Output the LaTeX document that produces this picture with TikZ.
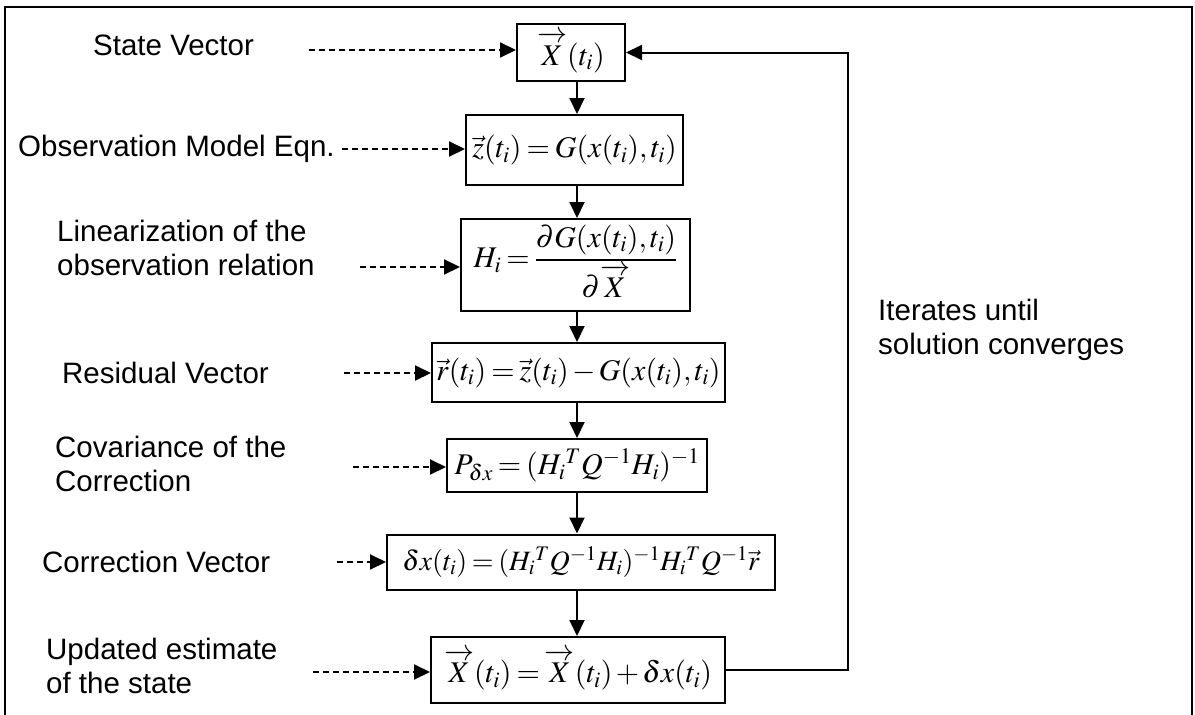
\documentclass[tikz,border=0pt]{standalone}
\usepackage{amsmath}
\usepackage{mathptmx}
\usepackage{fontspec}
\setmainfont{Liberation Sans}
\usetikzlibrary{arrows.meta}
\newcommand{\vX}{\overrightarrow{\vphantom{(}X}}
\medmuskip=2mu plus 1mu minus 1mu
\thickmuskip=3mu plus 1mu
\thinmuskip=2mu
\tikzset{
  eqbox/.style={draw, line width=2pt, inner sep=0pt, align=center,
    font=\fontsize{30}{34}\selectfont},
  lbl/.style={inner sep=0pt, anchor=west, align=left,
    font=\fontsize{29.5}{34.5}\selectfont},
  flow/.style={line width=2pt, -{Triangle[length=16pt,width=15pt]}},
  dasharrow/.style={line width=2pt, dash pattern=on 6pt off 4pt,
    -{Triangle[length=16pt,width=15pt]}},
}
\begin{document}
\begin{tikzpicture}[x=1pt,y=-1pt]
\useasboundingbox (0,0) rectangle (1195,715);
% outer frame
\draw[line width=2.5pt] (5,716) -- (5,7) -- (1192,7) -- (1192,716);

% equation boxes
\node[eqbox, minimum width=108pt, minimum height=57pt] (b1) at (571,52.5) {$\vX(t_i)$};
\node[eqbox, minimum width=217pt, minimum height=70pt] (b2) at (574.5,150) {$\vec{z}(t_i)=G(x(t_i),t_i)$};
\node[eqbox, minimum width=229pt, minimum height=92pt] (b3) at (575.5,265) {$H_i=\dfrac{\partial G(x(t_i),t_i)}{\partial \vX}$};
\node[eqbox, minimum width=293pt, minimum height=59pt] (b4) at (578.5,372.5) {$\vec{r}(t_i)=\vec{z}(t_i)-G(x(t_i),t_i)$};
\node[eqbox, minimum width=260pt, minimum height=53pt] (b5) at (577,465.5) {$P_{\delta x}=(H_i{}^{T}Q^{-1}H_i)^{-1}$};
\node[eqbox, minimum width=388pt, minimum height=55pt, font=\fontsize{28}{32}\selectfont] (b6) at (581,562) {$\delta x(t_i)=(H_i{}^{T}Q^{-1}H_i)^{-1}H_i{}^{T}Q^{-1}\vec{r}$};
\node[eqbox, minimum width=294pt, minimum height=66pt] (b7) at (578,670) {$\vX(t_i)=\vX(t_i)+\delta x(t_i)$};

% labels
\node[lbl] (l1) at (93,45) {State Vector};
\node[lbl] (l2) at (18,149) {Observation Model Eqn.};
\node[lbl] (l3) at (57,248) {Linearization of the\\observation relation};
\node[lbl] (l4) at (62,373) {Residual Vector};
\node[lbl] (l5) at (55,464) {Covariance of the\\Correction};
\node[lbl] (l6) at (42,562) {Correction Vector};
\node[lbl] (l7) at (46,666) {Updated estimate\\of the state};
\node[lbl] (l8) at (878,330) {Iterates until\\solution converges};

% dashed pointers
\coordinate (d1) at (309,50);
\coordinate (d2) at (342,149);
\coordinate (d3) at (360,267);
\coordinate (d4) at (344,373);
\coordinate (d5) at (353,467);
\coordinate (d6) at (337,562);
\coordinate (d7) at (313,672);
\draw[dasharrow] (d1) -- (b1.west |- d1);
\draw[dasharrow] (d2) -- (b2.west |- d2);
\draw[dasharrow] (d3) -- (b3.west |- d3);
\draw[dasharrow] (d4) -- (b4.west |- d4);
\draw[dasharrow] (d5) -- (b5.west |- d5);
\draw[dasharrow] (d6) -- (b6.west |- d6);
\draw[dasharrow] (d7) -- (b7.west |- d7);

% flow arrows
\coordinate (ax) at (577,0);
\draw[flow] (b1.south -| ax) -- (b2.north -| ax);
\draw[flow] (b2.south -| ax) -- (b3.north -| ax);
\draw[flow] (b3.south -| ax) -- (b4.north -| ax);
\draw[flow] (b4.south -| ax) -- (b5.north -| ax);
\draw[flow] (b5.south -| ax) -- (b6.north -| ax);
\draw[flow] (b6.south -| ax) -- (b7.north -| ax);

% feedback loop
\coordinate (lp) at (848,0);
\draw[flow] (b7.east) -- (b7.east -| lp) -- (b1.east -| lp) -- (b1.east);
\end{tikzpicture}
\end{document}
